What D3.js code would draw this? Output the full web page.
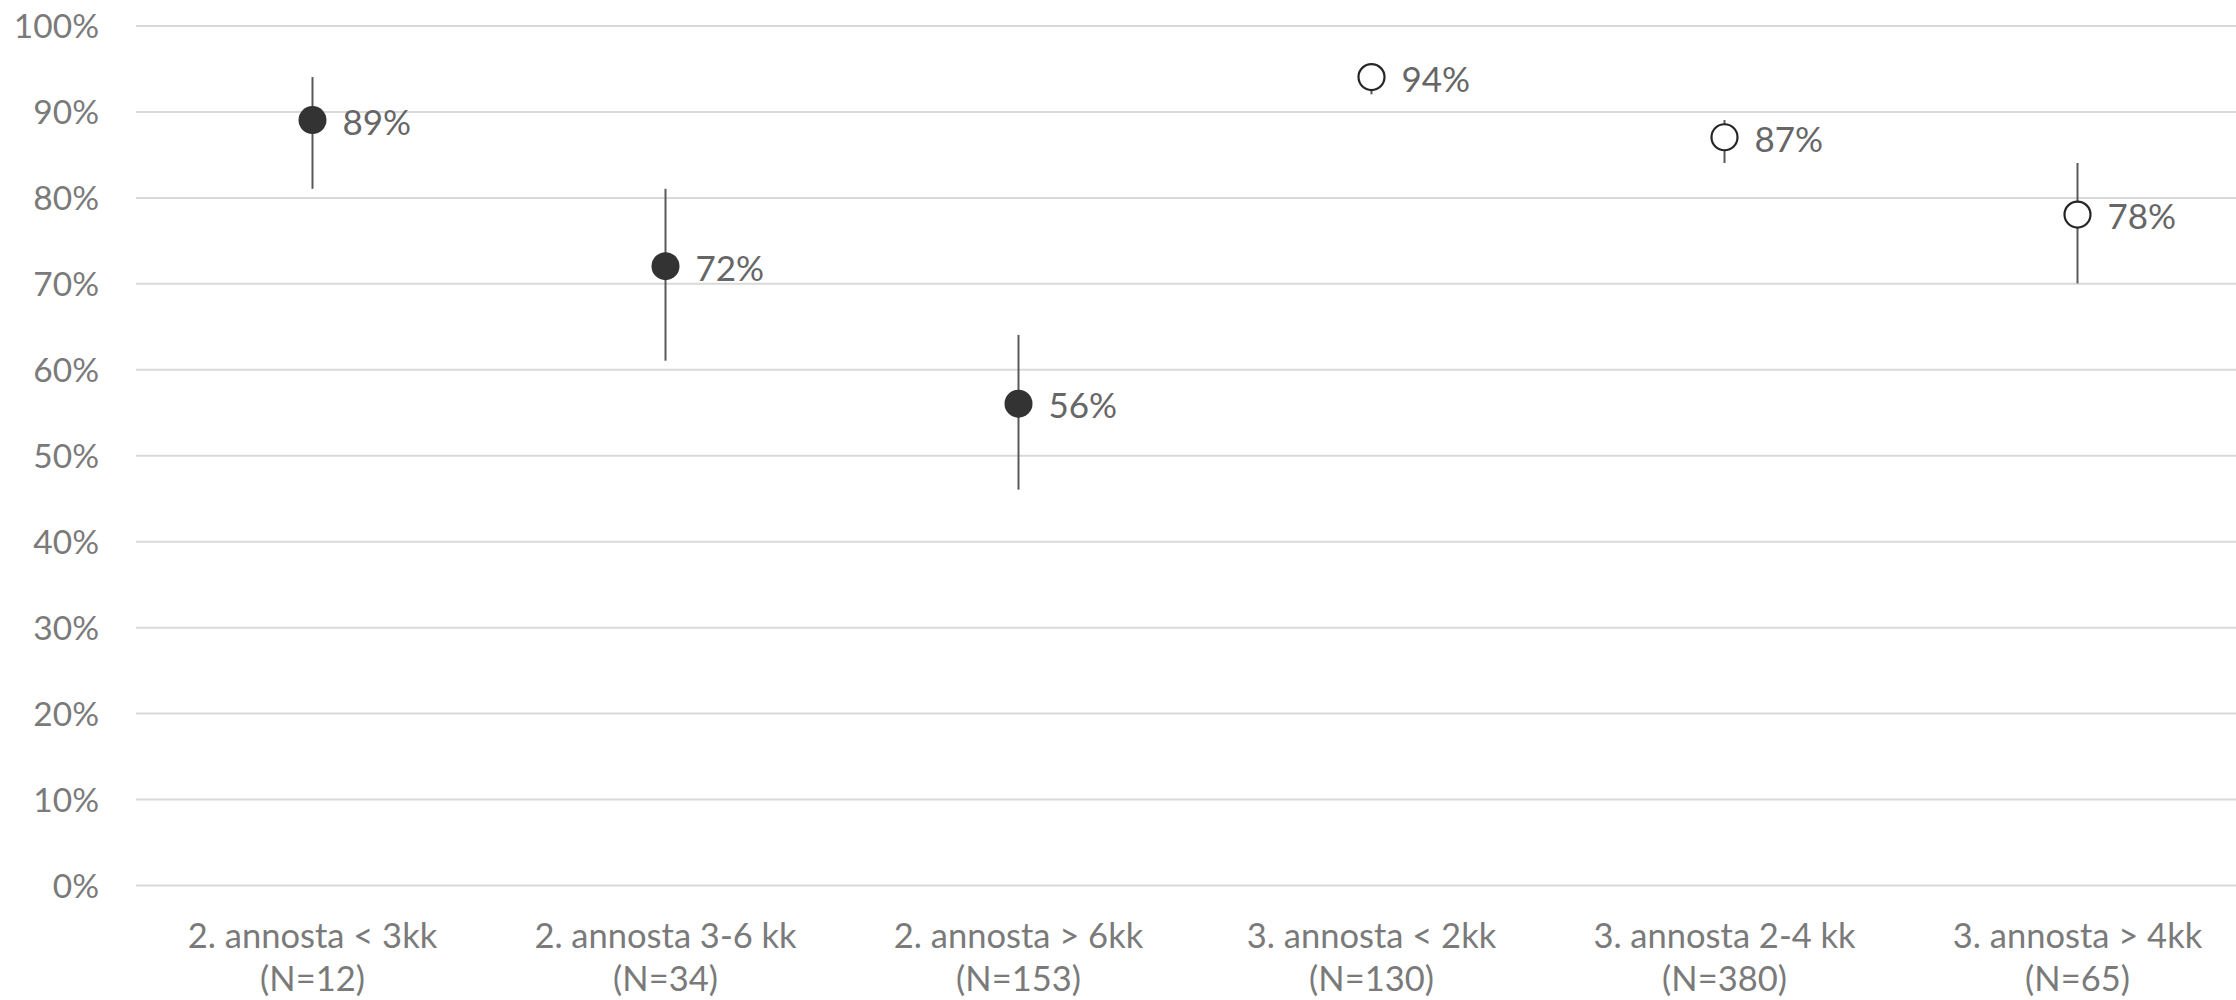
<!DOCTYPE html>
<html>
<head>
<meta charset="utf-8">
<script src="https://cdn.jsdelivr.net/npm/d3@7"></script>
<style>
  html, body { margin: 0; padding: 0; background: #fff; }
  svg { display: block; }
</style>
</head>
<body>
<svg id="chart" width="2236" height="1000"></svg>
<script>
// Values (percent).
const categories = [
  "2. annosta < 3kk",
  "2. annosta 3-6 kk",
  "2. annosta > 6kk",
  "3. annosta < 2kk",
  "3. annosta 2-4 kk",
  "3. annosta > 4kk",
];
const counts = ["(N=12)", "(N=34)", "(N=153)", "(N=130)", "(N=380)", "(N=65)"];
const values = [89, 72, 56, 94, 87, 78];
const lower  = [81, 61, 46, 92, 84, 70];
const upper  = [94, 81, 64, 95.5, 89, 84];
const filled = [true, true, true, false, false, false];
const yTicks = [0, 10, 20, 30, 40, 50, 60, 70, 80, 90, 100];

const FONT = "Source Sans Pro, Lato, sans-serif";
const W = 2236;

const svg = d3.select("#chart");

const x = d3.scaleBand()
  .domain(categories)
  .range([136, 2254])
  .padding(0);

const y = d3.scaleLinear()
  .domain([0, 100])
  .range([885, 25.5]);

// Gridlines + y tick labels.
const yAxis = svg.append("g")
  .attr("transform", "translate(136,0)")
  .call(d3.axisLeft(y)
    .tickValues(yTicks)
    .tickSize(-(W - 136))
    .tickPadding(37)
    .tickFormat(d => d + "%"));

yAxis.select(".domain").remove();
yAxis.selectAll(".tick line")
  .attr("stroke", "#d9d9d9")
  .attr("stroke-width", 2);
yAxis.selectAll(".tick text")
  .attr("font-family", FONT)
  .attr("font-size", "33.5px")
  .attr("fill", "#7a7a7a")
  .attr("dy", "0.36em");

// Category labels (two lines each).
const xLabels = svg.append("g");
categories.forEach((c, i) => {
  const cx = x(c) + x.bandwidth() / 2;
  const t = xLabels.append("text")
    .attr("x", cx)
    .attr("text-anchor", "middle")
    .attr("font-family", FONT)
    .attr("font-size", "34.5px")
    .attr("fill", "#7a7a7a");
  t.append("tspan").attr("x", cx).attr("y", 948).text(c);
  t.append("tspan").attr("x", cx).attr("y", 991).text(counts[i]);
});

// Error bars, markers, value labels.
const pts = svg.append("g");
categories.forEach((c, i) => {
  const cx = x(c) + x.bandwidth() / 2;
  const cy = y(values[i]);

  pts.append("line")
    .attr("x1", cx).attr("x2", cx)
    .attr("y1", y(upper[i])).attr("y2", y(lower[i]))
    .attr("stroke", "#595959")
    .attr("stroke-width", 2);

  if (filled[i]) {
    pts.append("circle")
      .attr("cx", cx).attr("cy", cy)
      .attr("r", 14)
      .attr("fill", "#333333");
  } else {
    pts.append("circle")
      .attr("cx", cx).attr("cy", cy)
      .attr("r", 13)
      .attr("fill", "#ffffff")
      .attr("stroke", "#262626")
      .attr("stroke-width", 2.2);
  }

  pts.append("text")
    .attr("x", cx + 30).attr("y", cy)
    .attr("dy", "0.42em")
    .attr("font-family", FONT)
    .attr("font-size", "35px")
    .attr("fill", "#666666")
    .text(values[i] + "%");
});
</script>
</body>
</html>
